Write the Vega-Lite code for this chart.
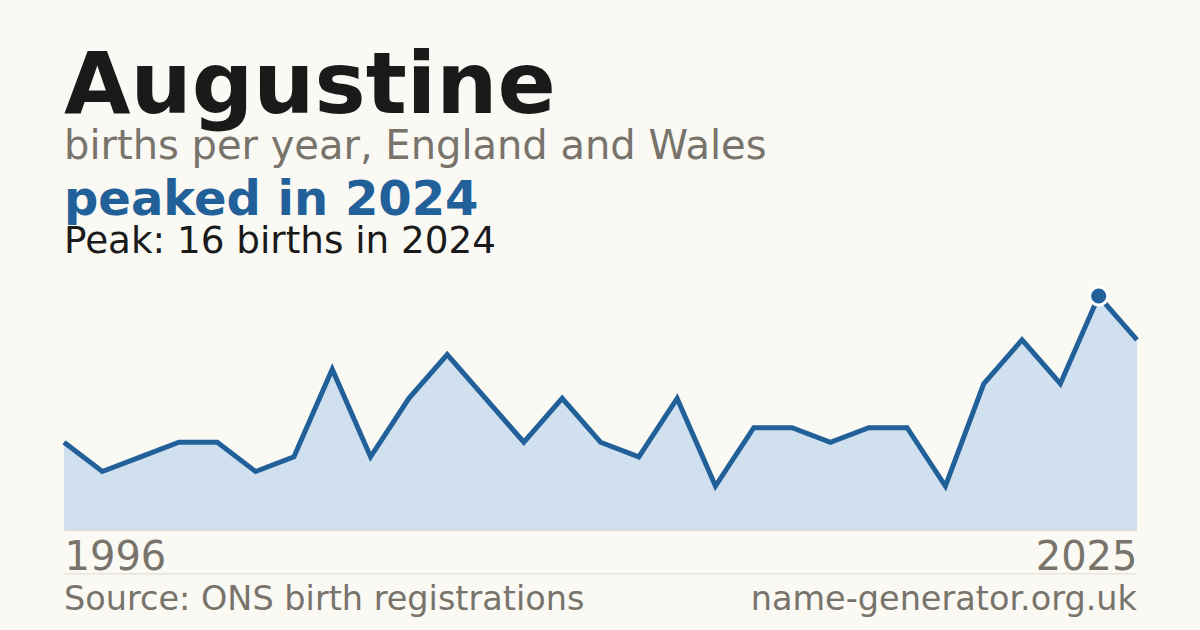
{
  "$schema": "https://vega.github.io/schema/vega-lite/v6.json",
  "width": 1073,
  "height": 234,
  "autosize": "none",
  "padding": {"left": 64, "top": 296, "right": 63, "bottom": 100},
  "background": "#faf9f4",
  "config": {"view": {"stroke": null}, "font": "DejaVu Sans"},
  "datasets": {
    "births": [
      {"year": "1996", "births": 6},
      {"year": "1997", "births": 4},
      {"year": "1998", "births": 5},
      {"year": "1999", "births": 6},
      {"year": "2000", "births": 6},
      {"year": "2001", "births": 4},
      {"year": "2002", "births": 5},
      {"year": "2003", "births": 11},
      {"year": "2004", "births": 5},
      {"year": "2005", "births": 9},
      {"year": "2006", "births": 12},
      {"year": "2007", "births": 9},
      {"year": "2008", "births": 6},
      {"year": "2009", "births": 9},
      {"year": "2010", "births": 6},
      {"year": "2011", "births": 5},
      {"year": "2012", "births": 9},
      {"year": "2013", "births": 3},
      {"year": "2014", "births": 7},
      {"year": "2015", "births": 7},
      {"year": "2017", "births": 6},
      {"year": "2018", "births": 7},
      {"year": "2019", "births": 7},
      {"year": "2020", "births": 3},
      {"year": "2021", "births": 10},
      {"year": "2022", "births": 13},
      {"year": "2023", "births": 10},
      {"year": "2024", "births": 16},
      {"year": "2025", "births": 13}
    ]
  },
  "layer": [
    {
      "data": {"name": "births"},
      "mark": {"type": "area", "color": "#d0e0ef"},
      "encoding": {
        "x": {"field": "year", "type": "ordinal", "scale": {"type": "point", "padding": 0},
              "axis": {"title": null, "values": ["1996", "2025"], "labelAngle": 0, "domain": true, "domainColor": "#dcd8cf", "domainWidth": 1, "ticks": false, "tickSize": 0,
                       "labelFontSize": 40, "labelColor": "#78736b", "labelBaseline": "alphabetic", "labelPadding": 39,
                       "labelAlign": {"condition": {"test": "datum.value == '1996'", "value": "left"}, "value": "right"}}},
        "y": {"field": "births", "type": "quantitative", "scale": {"domain": [0, 16], "nice": false, "zero": true}, "axis": null}
      }
    },
    {
      "data": {"name": "births"},
      "mark": {"type": "line", "color": "#22609a", "strokeWidth": 5},
      "encoding": {
        "x": {"field": "year", "type": "ordinal"},
        "y": {"field": "births", "type": "quantitative"}
      }
    },
    {
      "data": {"name": "births"},
      "transform": [{"filter": "datum.year == '2024'"}],
      "mark": {"type": "point", "filled": true, "color": "#22609a", "size": 330, "stroke": "#ffffff", "strokeWidth": 3, "opacity": 1},
      "encoding": {
        "x": {"field": "year", "type": "ordinal"},
        "y": {"field": "births", "type": "quantitative"}
      }
    },
    {
      "data": {"values": [{"label": "Augustine"}]},
      "mark": {"type": "text", "align": "left", "baseline": "alphabetic", "fontSize": 86, "fontWeight": "bold", "color": "#1a1a1a"},
      "encoding": {
        "x": {"datum": "1996", "type": "ordinal"},
        "y": {"datum": 28.53, "type": "quantitative"},
        "text": {"field": "label"}
      }
    },
    {
      "data": {"values": [{"label": "births per year, England and Wales"}]},
      "mark": {"type": "text", "align": "left", "baseline": "alphabetic", "fontSize": 40, "color": "#78736b"},
      "encoding": {
        "x": {"datum": "1996", "type": "ordinal"},
        "y": {"datum": 25.37, "type": "quantitative"},
        "text": {"field": "label"}
      }
    },
    {
      "data": {"values": [{"label": "peaked in 2024"}]},
      "mark": {"type": "text", "align": "left", "baseline": "alphabetic", "fontSize": 48, "fontWeight": "bold", "color": "#22609a"},
      "encoding": {
        "x": {"datum": "1996", "type": "ordinal"},
        "y": {"datum": 21.54, "type": "quantitative"},
        "text": {"field": "label"}
      }
    },
    {
      "data": {"values": [{"label": "Peak: 16 births in 2024"}]},
      "mark": {"type": "text", "align": "left", "baseline": "alphabetic", "fontSize": 37.3, "color": "#1a1a1a"},
      "encoding": {
        "x": {"datum": "1996", "type": "ordinal"},
        "y": {"datum": 18.94, "type": "quantitative"},
        "text": {"field": "label"}
      }
    },
    {
      "data": {"values": [{"label": "sep"}]},
      "mark": {"type": "rule", "color": "#dcd8cf", "strokeWidth": 1},
      "encoding": {
        "x": {"datum": "1996", "type": "ordinal"},
        "x2": {"datum": "2025"},
        "y": {"datum": -3.0, "type": "quantitative"}
      }
    },
    {
      "data": {"values": [{"label": "Source: ONS birth registrations"}]},
      "mark": {"type": "text", "align": "left", "baseline": "alphabetic", "fontSize": 33.5, "color": "#78736b"},
      "encoding": {
        "x": {"datum": "1996", "type": "ordinal"},
        "y": {"datum": -5.47, "type": "quantitative"},
        "text": {"field": "label"}
      }
    },
    {
      "data": {"values": [{"label": "name-generator.org.uk"}]},
      "mark": {"type": "text", "align": "right", "baseline": "alphabetic", "fontSize": 33.5, "color": "#78736b"},
      "encoding": {
        "x": {"datum": "2025", "type": "ordinal"},
        "y": {"datum": -5.47, "type": "quantitative"},
        "text": {"field": "label"}
      }
    }
  ]
}
